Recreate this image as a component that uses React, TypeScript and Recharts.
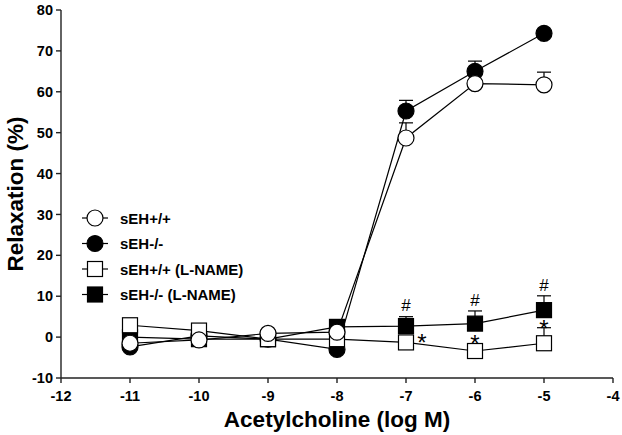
import {
    ComposedChart,
    ErrorBar,
    Line,
    Scatter,
    XAxis,
    YAxis,
} from "recharts";

const doses = [-11, -10, -9, -8, -7, -6, -5];
const wt = [-1.5, -0.7, 0.9, 1.2, 48.7, 62.0, 61.7];
const wtErr = [0, 0, 0, 0, 3.7, 0, 3.1];
const ko = [-2.4, 0.3, -0.5, -3.0, 55.3, 65.0, 74.3];
const koErr = [0, 0, 0, 0, 2.6, 2.5, 0];
const wtLn = [2.9, 1.6, -0.5, -0.5, -1.3, -3.4, -1.5];
const wtLnErr = [0, 0, 0, 0, 0, 0, 3.8];
const koLn = [0.0, -0.5, -0.5, 2.5, 2.7, 3.3, 6.6];
const koLnErr = [0, 0, 0, 0, 2.3, 3.1, 3.5];

const xTicks = [-12, -11, -10, -9, -8, -7, -6, -5, -4];
const yTicks = [-10, 0, 10, 20, 30, 40, 50, 60, 70, 80];

// "#" vs sEH+/+ and "*" vs L-NAME-free groups
const hashX = [-7, -6, -5];
const hashY = [7.8, 9.0, 12.7];
const starX = [-6.77, -6, -5];
const starY = [0.3, 0.0, 3.8];

const legendItems = [
    { name: "sEH+/+", shape: "circle", fill: "#fff" },
    { name: "sEH-/-", shape: "circle", fill: "#000" },
    { name: "sEH+/+ (L-NAME)", shape: "square", fill: "#fff" },
    { name: "sEH-/- (L-NAME)", shape: "square", fill: "#000" },
];

const rows = doses.map((x, i) => ({
    x,
    wt: wt[i],
    wtE: [0, wtErr[i]],
    ko: ko[i],
    koE: [0, koErr[i]],
    wtLn: wtLn[i],
    wtLnE: [0, wtLnErr[i]],
    koLn: koLn[i],
    koLnE: [0, koLnErr[i]],
}));

const hashPts = hashX.map((x, i) => ({ x, y: hashY[i] }));
const starPts = starX.map((x, i) => ({ x, y: starY[i] }));

const FONT = "'Liberation Sans', Arial, sans-serif";

function Marker({ cx, cy, shape, fill }: any) {
    if (cx == null || cy == null) return null;
    if (shape === "square") {
        return <rect x={cx - 7.5} y={cy - 7.5} width={15} height={15} fill={fill} stroke="#000" strokeWidth={1.2} />;
    }
    return <circle cx={cx} cy={cy} r={8} fill={fill} stroke="#000" strokeWidth={1.2} />;
}

const mk = (shape: string, fill: string) => (p: any) =>
    <Marker key={p.index} cx={p.cx} cy={p.cy} shape={shape} fill={fill} />;

const symbol = (ch: string, size: number, dy: number) => (p: any) => (
    <text x={p.cx} y={p.cy + dy} textAnchor="middle" fontSize={size} fontFamily={FONT} fill="#000">
        {ch}
    </text>
);

export default function App() {
    return (
        <div style={{ position: "absolute", left: 0, top: 0, width: 622, height: 435, background: "#fff" }}>
            <ComposedChart
                width={622}
                height={435}
                data={rows}
                margin={{ top: 10, right: 9, left: 0, bottom: 0 }}
            >
                <XAxis
                    type="number"
                    dataKey="x"
                    domain={[-12, -4]}
                    ticks={xTicks}
                    height={57}
                    stroke="#222"
                    strokeWidth={1.4}
                    tickSize={5}
                    tickMargin={8}
                    tick={{ fill: "#000", fontSize: 14.5, fontWeight: 700, fontFamily: FONT }}
                    label={{
                        content: ({ viewBox }: any) => (
                            <text
                                x={viewBox.x + viewBox.width / 2}
                                y={viewBox.y + 49}
                                textAnchor="middle"
                                fontSize={22.5}
                                fontWeight={700}
                                fontFamily={FONT}
                                fill="#000"
                            >
                                Acetylcholine (log M)
                            </text>
                        ),
                    }}
                />
                <YAxis
                    type="number"
                    domain={[-10, 80]}
                    ticks={yTicks}
                    width={61}
                    stroke="#222"
                    strokeWidth={1.4}
                    tickSize={5}
                    tickMargin={3}
                    tick={{ fill: "#000", fontSize: 14.5, fontWeight: 700, fontFamily: FONT }}
                    label={{
                        content: ({ viewBox }: any) => {
                            const cy = viewBox.y + viewBox.height / 2;
                            return (
                                <text
                                    x={0}
                                    y={0}
                                    transform={`translate(23, ${cy}) rotate(-90)`}
                                    textAnchor="middle"
                                    fontSize={22.5}
                                    fontWeight={700}
                                    fontFamily={FONT}
                                    fill="#000"
                                >
                                    Relaxation (%)
                                </text>
                            );
                        },
                    }}
                />
                <Line dataKey="ko" stroke="#000" strokeWidth={1.2} dot={mk("circle", "#000")} isAnimationActive={false}>
                    <ErrorBar dataKey="koE" direction="y" width={7} stroke="#000" strokeWidth={1.2} />
                </Line>
                <Line dataKey="koLn" stroke="#000" strokeWidth={1.2} dot={mk("square", "#000")} isAnimationActive={false}>
                    <ErrorBar dataKey="koLnE" direction="y" width={7} stroke="#000" strokeWidth={1.2} />
                </Line>
                <Line dataKey="wtLn" stroke="#000" strokeWidth={1.2} dot={mk("square", "#fff")} isAnimationActive={false}>
                    <ErrorBar dataKey="wtLnE" direction="y" width={7} stroke="#000" strokeWidth={1.2} />
                </Line>
                <Line dataKey="wt" stroke="#000" strokeWidth={1.2} dot={mk("circle", "#fff")} isAnimationActive={false}>
                    <ErrorBar dataKey="wtE" direction="y" width={7} stroke="#000" strokeWidth={1.2} />
                </Line>
                <Scatter data={hashPts} dataKey="y" shape={symbol("#", 17, 6)} isAnimationActive={false} />
                <Scatter data={starPts} dataKey="y" shape={symbol("*", 24, 15)} isAnimationActive={false} />
            </ComposedChart>
            <svg style={{ position: "absolute", left: 78, top: 205 }} width={200} height={105}>
                {legendItems.map((it, i) => {
                    const cy = 13 + i * 25.5;
                    return (
                        <g key={it.name}>
                            <line x1={4} x2={30} y1={cy} y2={cy} stroke="#000" strokeWidth={1.2} />
                            <Marker cx={17} cy={cy} shape={it.shape} fill={it.fill} />
                            <text x={42} y={cy + 5.5} fontSize={15} fontWeight={700} fontFamily={FONT} fill="#000">
                                {it.name}
                            </text>
                        </g>
                    );
                })}
            </svg>
        </div>
    );
}
